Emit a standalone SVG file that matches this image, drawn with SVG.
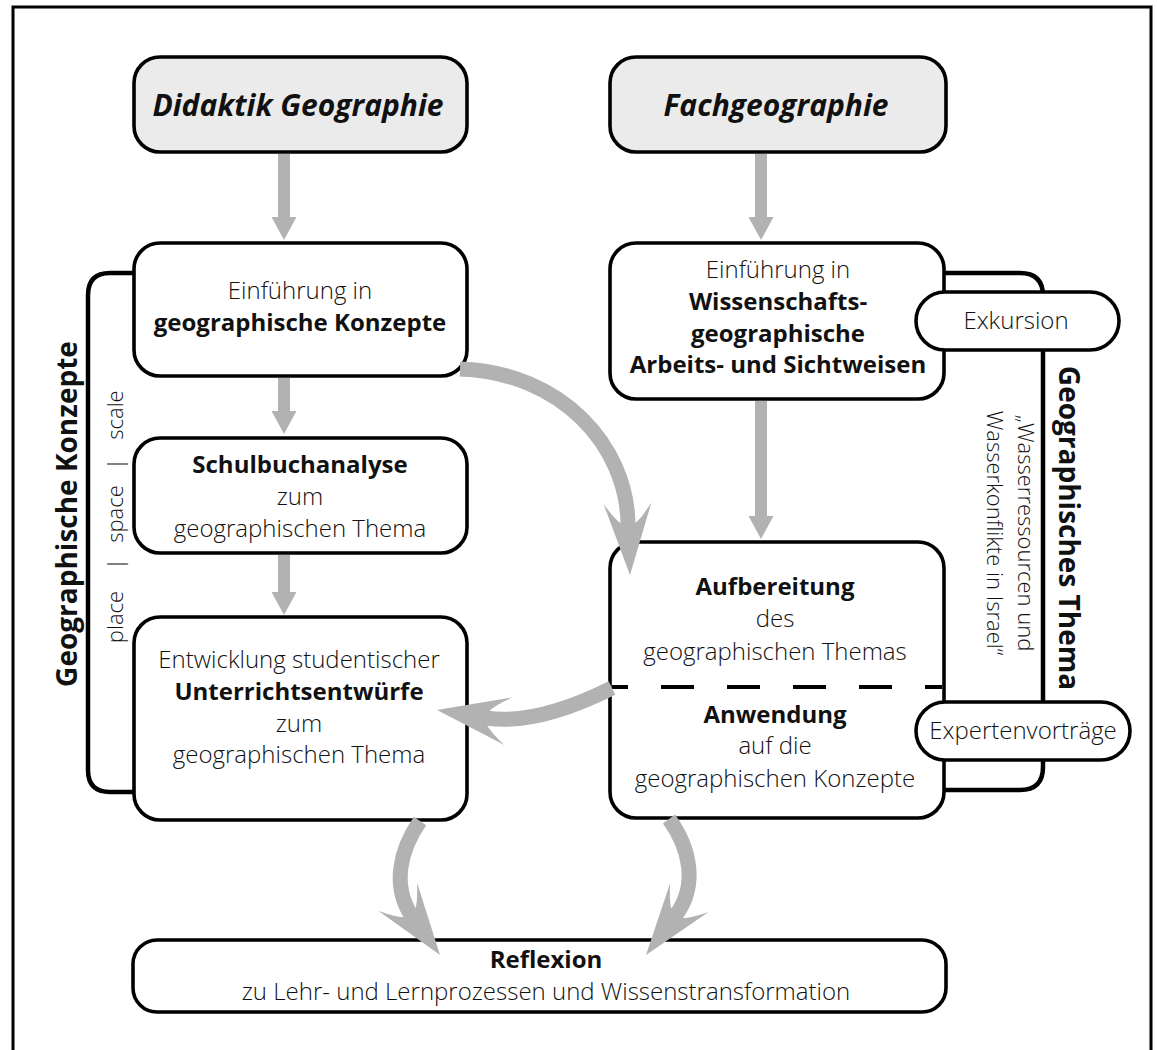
<svg xmlns="http://www.w3.org/2000/svg" xmlns:xlink="http://www.w3.org/1999/xlink" width="1157" height="1050" viewBox="0 0 1157 1050">
<defs>
<style>
.box{fill:#fff;stroke:#000;stroke-width:3.6}
.hdr{fill:#ebebeb;stroke:#000;stroke-width:3.6}
.brk{fill:none;stroke:#000;stroke-width:4.5}
.t{font-family:"Open Sans","Liberation Sans",sans-serif;font-size:24px;font-weight:300;fill:#111;text-anchor:middle}
.b{font-weight:700}
.title{font-family:"Open Sans","Liberation Sans",sans-serif;font-size:30px;font-weight:700;font-style:italic;fill:#111;text-anchor:middle}
.vb{font-family:"Open Sans","Liberation Sans",sans-serif;font-size:28px;font-weight:700;fill:#111;text-anchor:middle}
.vs{font-family:"Open Sans","Liberation Sans",sans-serif;font-size:22px;font-weight:300;fill:#111;text-anchor:middle}
.shaft{fill:none;stroke:#b2b2b2;stroke-width:15}
.sshaft{fill:none;stroke:#b2b2b2;stroke-width:12}
.head{fill:#b2b2b2}
</style>
<path id="swallow" d="M0,0 L-72,-24 Q-57,-14 -52,-7.5 L-52,7.5 Q-57,14 -72,24 Z"/>
<path id="tri" d="M0,0 L-23,-12.5 L-23,12.5 Z"/>
</defs>
<rect x="13" y="7" width="1138" height="1100" fill="none" stroke="#000" stroke-width="3"/>

<g id="bracket-konzepte">
<path class="brk" d="M136,273 H110 Q88,273 88,295 V770 Q88,792 110,792 H136"/>
<text class="vb" transform="translate(77,514) rotate(-90)">Geographische Konzepte</text>
<text class="vs" transform="translate(123,514) rotate(-90)"><tspan x="-103">place</tspan><tspan x="-50">|</tspan><tspan x="0">space</tspan><tspan x="50">|</tspan><tspan x="99">scale</tspan></text>
</g>

<g id="bracket-thema">
<path class="brk" d="M942,273 H1020 Q1043,273 1043,296 V767 Q1043,790 1020,790 H942"/>
<text class="vb" transform="translate(1059,528) rotate(90)">Geographisches Thema</text>
<text class="vs" transform="translate(1018,533) rotate(90)">„Wasserressourcen und</text>
<text class="vs" transform="translate(987,533) rotate(90)">Wasserkonflikte in Israel“</text>
</g>

<g id="n-didaktik">
<rect class="hdr" x="134" y="57" width="333" height="95" rx="26"/>
<text class="title" x="298" y="116">Didaktik Geographie</text>
</g>
<g id="n-fach">
<rect class="hdr" x="610" y="57" width="336" height="95" rx="26"/>
<text class="title" x="776" y="116">Fachgeographie</text>
</g>
<g id="n-einf-konzepte">
<rect class="box" x="134" y="243" width="333" height="133" rx="26"/>
<text class="t" x="300" y="299">Einführung in</text>
<text class="t b" x="300" y="331">geographische Konzepte</text>
</g>
<g id="n-einf-wiss">
<rect class="box" x="610" y="243" width="334" height="156" rx="26"/>
<text class="t" x="778" y="278">Einführung in</text>
<text class="t b" x="778" y="310">Wissenschafts-</text>
<text class="t b" x="778" y="342">geographische</text>
<text class="t b" x="778" y="373">Arbeits- und Sichtweisen</text>
</g>
<g id="n-schulbuch">
<rect class="box" x="134" y="438" width="333" height="115" rx="26"/>
<text class="t b" x="300" y="473">Schulbuchanalyse</text>
<text class="t" x="300" y="505">zum</text>
<text class="t" x="300" y="537">geographischen Thema</text>
</g>
<g id="n-entwicklung">
<rect class="box" x="134" y="617" width="333" height="203" rx="26"/>
<text class="t" x="299" y="668">Entwicklung studentischer</text>
<text class="t b" x="299" y="700">Unterrichtsentwürfe</text>
<text class="t" x="299" y="732">zum</text>
<text class="t" x="299" y="763">geographischen Thema</text>
</g>
<g id="n-aufbereitung">
<rect class="box" x="610" y="542" width="334" height="276" rx="26"/>
<line x1="612" y1="687" x2="942" y2="687" stroke="#000" stroke-width="4" stroke-dasharray="33 33" stroke-dashoffset="17"/>
<text class="t b" x="775" y="595">Aufbereitung</text>
<text class="t" x="775" y="627">des</text>
<text class="t" x="775" y="660">geographischen Themas</text>
<text class="t b" x="775" y="723">Anwendung</text>
<text class="t" x="775" y="754">auf die</text>
<text class="t" x="775" y="787">geographischen Konzepte</text>
</g>
<g id="n-exkursion">
<rect class="box" x="916" y="292" width="203" height="58" rx="29"/>
<text class="t" x="1016" y="329">Exkursion</text>
</g>
<g id="n-experten">
<rect class="box" x="916" y="702" width="214" height="58" rx="29"/>
<text class="t" x="1023" y="739">Expertenvorträge</text>
</g>
<g id="n-reflexion">
<rect class="box" x="133" y="940" width="813" height="72" rx="24"/>
<text class="t b" x="546" y="968">Reflexion</text>
<text class="t" x="546" y="1000">zu Lehr- und Lernprozessen und Wissenstransformation</text>
</g>

<g id="connectors">
<line class="sshaft" x1="284" y1="154" x2="284" y2="219"/>
<use xlink:href="#tri" class="head" transform="translate(284,240) rotate(90)"/>
<line class="sshaft" x1="761" y1="154" x2="761" y2="219"/>
<use xlink:href="#tri" class="head" transform="translate(761,240) rotate(90)"/>
<line class="sshaft" x1="284" y1="378" x2="284" y2="412"/>
<use xlink:href="#tri" class="head" transform="translate(284,434) rotate(90)"/>
<line class="sshaft" x1="284" y1="555" x2="284" y2="594"/>
<use xlink:href="#tri" class="head" transform="translate(284,615) rotate(90)"/>
<line class="sshaft" x1="761" y1="401" x2="761" y2="518"/>
<use xlink:href="#tri" class="head" transform="translate(761,539) rotate(90)"/>

<path class="shaft" d="M460,369 C560,372 628,445 628,526"/>
<use xlink:href="#swallow" class="head" transform="translate(630,575) rotate(88)"/>
<path class="shaft" d="M612,688 C572,708 526,724 486,718"/>
<use xlink:href="#swallow" class="head" transform="translate(437,710) rotate(189)"/>
<path class="shaft" d="M420,821 C400,850 392,885 411,915"/>
<use xlink:href="#swallow" class="head" transform="translate(440,955) rotate(54)"/>
<path class="shaft" d="M669,819 C690,848 698,885 676,915"/>
<use xlink:href="#swallow" class="head" transform="translate(646,955) rotate(127)"/>
</g>
</svg>
